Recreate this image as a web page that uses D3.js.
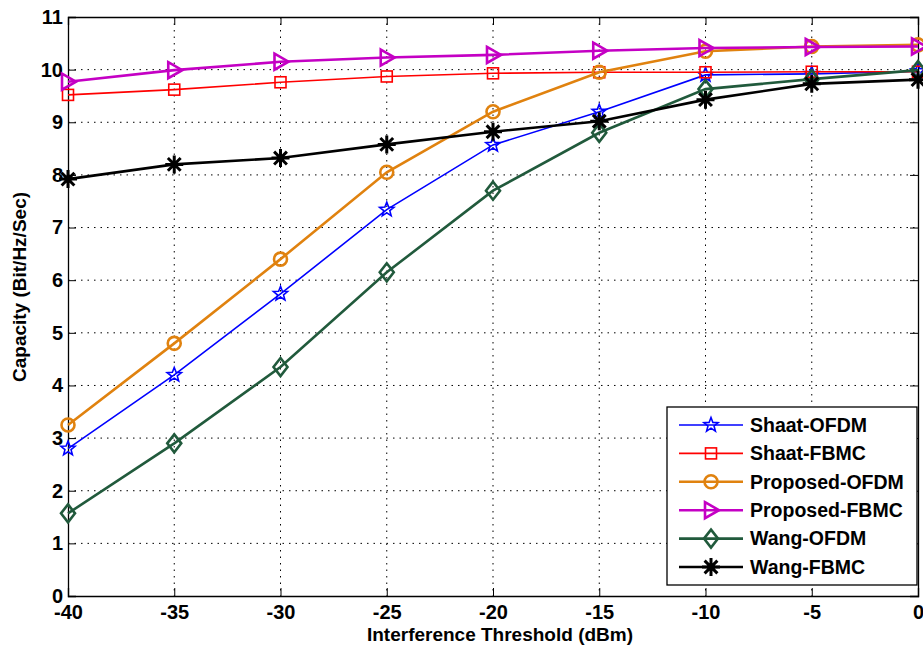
<!DOCTYPE html>
<html>
<head>
<meta charset="utf-8">
<script src="https://cdn.jsdelivr.net/npm/d3@7"></script>
<style>
  body { margin: 0; background: #fff; }
  svg { font-family: "Liberation Sans", Arial, sans-serif; }
</style>
</head>
<body>
<svg width="923" height="649"></svg>
<script>
const thresholds = [-40, -35, -30, -25, -20, -15, -10, -5, 0];
const shaatOFDM = [2.8, 4.2, 5.74, 7.34, 8.57, 9.2, 9.9, 9.92, 9.97];
const shaatFBMC = [9.52, 9.62, 9.76, 9.87, 9.93, 9.95, 9.95, 9.96, 9.96];
const proposedOFDM = [3.25, 4.8, 6.4, 8.05, 9.2, 9.95, 10.35, 10.44, 10.47];
const proposedFBMC = [9.77, 9.99, 10.15, 10.23, 10.28, 10.36, 10.41, 10.43, 10.44];
const wangOFDM = [1.57, 2.9, 4.35, 6.15, 7.7, 8.8, 9.63, 9.82, 9.99];
const wangFBMC = [7.92, 8.2, 8.32, 8.58, 8.82, 9.02, 9.43, 9.73, 9.81];
const xTicks = [-40, -35, -30, -25, -20, -15, -10, -5, 0];
const yTicks = [0, 1, 2, 3, 4, 5, 6, 7, 8, 9, 10, 11];

const series = [
    { name: "Shaat-OFDM", values: shaatOFDM, color: "#0000ff", width: 1.6, marker: "star" },
    { name: "Shaat-FBMC", values: shaatFBMC, color: "#ff0000", width: 1.6, marker: "square" },
    { name: "Proposed-OFDM", values: proposedOFDM, color: "#e0820f", width: 2.6, marker: "circle" },
    { name: "Proposed-FBMC", values: proposedFBMC, color: "#c400c4", width: 2.6, marker: "triangle" },
    { name: "Wang-OFDM", values: wangOFDM, color: "#215a3c", width: 2.6, marker: "diamond" },
    { name: "Wang-FBMC", values: wangFBMC, color: "#000000", width: 2.6, marker: "asterisk" }
];

const svg = d3.select("svg");
const m = { left: 68, top: 17, right: 918, bottom: 596 };
const w = m.right - m.left, h = m.bottom - m.top;
const g = svg.append("g").attr("transform", `translate(${m.left},${m.top})`);

const xScale = d3.scaleLinear().domain([-40, 0]).range([0, w]);
const yScale = d3.scaleLinear().domain([0, 11]).range([h, 0]);

// grid
g.append("g").selectAll("line").data(xTicks.slice(1, -1)).enter().append("line")
    .attr("x1", d => xScale(d)).attr("x2", d => xScale(d))
    .attr("y1", 0).attr("y2", h)
    .attr("stroke", "#000").attr("stroke-width", 1).attr("stroke-dasharray", "1.5,5");
g.append("g").selectAll("line").data(yTicks.slice(1, -1)).enter().append("line")
    .attr("y1", d => yScale(d)).attr("y2", d => yScale(d))
    .attr("x1", 0).attr("x2", w)
    .attr("stroke", "#000").attr("stroke-width", 1).attr("stroke-dasharray", "1.5,5");

// axes (hyphen minus like the original)
const fmt = d => String(d);
const xAxis = g.append("g").attr("transform", `translate(0,${h})`)
    .call(d3.axisBottom(xScale).tickValues(xTicks).tickSize(-8).tickPadding(9).tickFormat(fmt));
const yAxis = g.append("g")
    .call(d3.axisLeft(yScale).tickValues(yTicks).tickSize(-8).tickPadding(5).tickFormat(fmt));
const xTop = g.append("g")
    .call(d3.axisTop(xScale).tickValues(xTicks).tickSize(-8).tickFormat(""));
const yRight = g.append("g").attr("transform", `translate(${w},0)`)
    .call(d3.axisRight(yScale).tickValues(yTicks).tickSize(-8).tickFormat(""));
[xAxis, yAxis, xTop, yRight].forEach(a => {
    a.select(".domain").attr("stroke", "#000").attr("stroke-width", 1.3);
    a.selectAll("line").attr("stroke", "#000").attr("stroke-width", 1);
    a.selectAll("text").attr("fill", "#000").attr("font-size", 20).attr("font-weight", "bold")
        .attr("font-family", "Liberation Sans, Arial, sans-serif");
});
xAxis.selectAll("text").attr("dy", "0.71em");

svg.append("text").attr("x", 500).attr("y", 641).attr("text-anchor", "middle")
    .attr("font-size", 19).attr("font-weight", "bold").text("Interference Threshold (dBm)");
svg.append("text").attr("transform", `translate(26,${287}) rotate(-90)`).attr("text-anchor", "middle")
    .attr("font-size", 19).attr("font-weight", "bold").text("Capacity (Bit/Hz/Sec)");

function drawMarker(sel, s) {
    const sw = s.width;
    if (s.marker === "star") {
        const pts = [];
        for (let i = 0; i < 10; i++) {
            const r = i % 2 === 0 ? 7.5 : 3.2;
            const a = -Math.PI / 2 + i * Math.PI / 5;
            pts.push([r * Math.cos(a), r * Math.sin(a)]);
        }
        sel.append("path").attr("d", "M" + pts.join("L") + "Z")
            .attr("fill", "none").attr("stroke", s.color).attr("stroke-width", sw);
    } else if (s.marker === "square") {
        sel.append("rect").attr("x", -5.5).attr("y", -5.5).attr("width", 11).attr("height", 11)
            .attr("fill", "none").attr("stroke", s.color).attr("stroke-width", sw);
    } else if (s.marker === "circle") {
        sel.append("circle").attr("r", 6.5)
            .attr("fill", "none").attr("stroke", s.color).attr("stroke-width", sw);
    } else if (s.marker === "triangle") {
        sel.append("path").attr("d", "M-6,-8L8,0L-6,8Z")
            .attr("fill", "none").attr("stroke", s.color).attr("stroke-width", sw);
    } else if (s.marker === "diamond") {
        sel.append("path").attr("d", "M0,-9L7,0L0,9L-7,0Z")
            .attr("fill", "none").attr("stroke", s.color).attr("stroke-width", sw);
    } else if (s.marker === "asterisk") {
        const r = 9, q = 6.4;
        const d = `M${-r},0L${r},0M0,${-r}L0,${r}M${-q},${-q}L${q},${q}M${-q},${q}L${q},${-q}`;
        sel.append("path").attr("d", d).attr("stroke", s.color).attr("stroke-width", 3);
    }
}

const plot = g.append("g");
const line = d3.line().x((d, i) => xScale(thresholds[i])).y(d => yScale(d));
series.forEach(s => {
    plot.append("path").datum(s.values).attr("d", line)
        .attr("fill", "none").attr("stroke", s.color).attr("stroke-width", s.width);
    s.values.forEach((v, i) => {
        drawMarker(plot.append("g").attr("transform", `translate(${xScale(thresholds[i])},${yScale(v)})`), s);
    });
});

// legend
const lg = svg.append("g").attr("transform", "translate(667,407)");
lg.append("rect").attr("width", 250).attr("height", 178)
    .attr("fill", "#fff").attr("stroke", "#000").attr("stroke-width", 1.3);
series.forEach((s, i) => {
    const y = 18 + i * 28.4;
    lg.append("line").attr("x1", 12).attr("x2", 76).attr("y1", y).attr("y2", y)
        .attr("stroke", s.color).attr("stroke-width", s.width);
    drawMarker(lg.append("g").attr("transform", `translate(44,${y})`), s);
    lg.append("text").attr("x", 83).attr("y", y).attr("dy", "0.35em")
        .attr("font-size", 19.5).attr("font-weight", "bold").text(s.name);
});
</script>
</body>
</html>
